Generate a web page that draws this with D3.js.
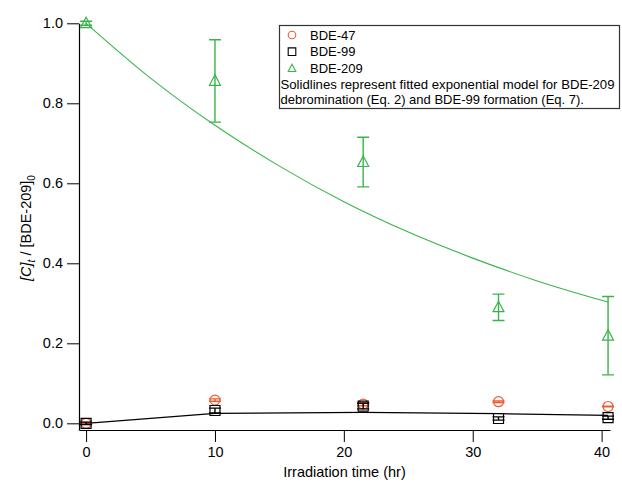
<!DOCTYPE html>
<html>
<head>
<meta charset="utf-8">
<script src="https://cdn.jsdelivr.net/npm/d3@7"></script>
<style>
  body { margin: 0; background: #fff; }
  svg { font-family: "Liberation Sans", Arial, sans-serif; }
</style>
</head>
<body>
<div id="chart"></div>
<script>
// measured values
var times = [0, 10, 21.5, 32, 40.5];
var bde47 = [0.0, 0.058, 0.048, 0.054, 0.042];
var bde47Err = [0.002, 0.003, 0.004, 0.002, 0.001];
var bde99 = [0.0, 0.032, 0.043, 0.012, 0.014];
var bde99Err = [0.003, 0.006, 0.007, 0.004, 0.004];
var bde209 = [1.0, 0.856, 0.653, 0.290, 0.219];
var bde209Err = [0.005, 0.103, 0.062, 0.033, 0.098];

// fitted model lines
var fit209Times = [0, 5, 10, 15, 20, 25, 30, 35, 40.5];
var fit209 = [1.0, 0.863, 0.745, 0.643, 0.554, 0.478, 0.413, 0.356, 0.303];
var fit99 = [0.0, 0.025, 0.0275, 0.024, 0.020];

var xTicks = [0, 10, 20, 30, 40];
var yTicks = [0, 0.2, 0.4, 0.6, 0.8, 1.0];

var width = 622, height = 482;
var red = "#ef5a36", green = "#38b54a", black = "#000";

var svg = d3.select("#chart").append("svg")
    .attr("width", width)
    .attr("height", height);

var x = d3.scaleLinear().domain([-0.55, 40.65]).range([79, 610]);
var y = d3.scaleLinear().domain([-0.0167, 1.0]).range([430, 23.3]);

// axes
svg.append("g")
    .attr("transform", "translate(0," + y.range()[0] + ")")
    .call(d3.axisBottom(x).tickValues(xTicks).tickSize(12).tickSizeOuter(0).tickPadding(5))
    .call(function(g) {
      g.select(".domain").attr("stroke-width", 1.2);
      g.selectAll("text").attr("font-size", 14.5).attr("fill", "#000");
    });

svg.append("g")
    .attr("transform", "translate(" + x.range()[0] + ",0)")
    .call(d3.axisLeft(y).tickValues(yTicks).tickFormat(d3.format(".1f")).tickSize(12).tickSizeOuter(0).tickPadding(4))
    .call(function(g) {
      g.select(".domain").attr("stroke-width", 1.2);
      g.selectAll("text").attr("font-size", 14.5).attr("fill", "#000");
    });

svg.append("text")
    .attr("x", (x.range()[0] + x.range()[1]) / 2)
    .attr("y", 477)
    .attr("text-anchor", "middle")
    .attr("font-size", 14.5)
    .text("Irradiation time (hr)");

var yTitle = svg.append("text")
    .attr("transform", "translate(31,228) rotate(-90)")
    .attr("text-anchor", "middle")
    .attr("font-size", 14.5);
yTitle.append("tspan").attr("font-style", "italic").text("[C]");
yTitle.append("tspan").attr("font-style", "italic").attr("font-size", 10).attr("dy", 4).text("t");
yTitle.append("tspan").attr("dy", -4).text(" / [BDE-209]");
yTitle.append("tspan").attr("font-size", 10).attr("dy", 4).text("0");

// fitted lines
var line = d3.line()
    .x(function(d) { return x(d[0]); })
    .y(function(d) { return y(d[1]); });

svg.append("path")
    .datum(d3.zip(fit209Times, fit209))
    .attr("d", line.curve(d3.curveMonotoneX))
    .attr("fill", "none")
    .attr("stroke", green)
    .attr("stroke-width", 1.1);

svg.append("path")
    .datum(d3.zip(times, fit99))
    .attr("d", line.curve(d3.curveLinear))
    .attr("fill", "none")
    .attr("stroke", black)
    .attr("stroke-width", 1.2);

function errorBars(vals, errs, color) {
  var data = d3.zip(times, vals, errs);
  var g = svg.append("g").attr("stroke", color).attr("stroke-width", 1.4);
  g.selectAll(".eb")
      .data(data)
    .enter().append("path")
      .attr("d", function(d) {
        var cx = x(d[0]), hi = y(d[1] + d[2]), lo = y(d[1] - d[2]);
        return "M" + cx + "," + hi + "V" + lo +
          "M" + (cx - 6) + "," + hi + "H" + (cx + 6) +
          "M" + (cx - 6) + "," + lo + "H" + (cx + 6);
      })
      .attr("fill", "none");
}

function markerPath(kind, s) {
  if (kind === "square") return "M" + (-s) + "," + (-s) + "h" + 2 * s + "v" + 2 * s + "h" + (-2 * s) + "Z";
  if (kind === "triangle") return "M0," + (-s * 1.1) + "L" + s + "," + s * 0.8 + "L" + (-s) + "," + s * 0.8 + "Z";
  return d3.arc()({innerRadius: 0, outerRadius: s, startAngle: 0, endAngle: 2 * Math.PI});
}

function markers(vals, kind, color, s) {
  svg.append("g").selectAll(".m")
      .data(d3.zip(times, vals))
    .enter().append("path")
      .attr("transform", function(d) { return "translate(" + x(d[0]) + "," + y(d[1]) + ")"; })
      .attr("d", markerPath(kind, s))
      .attr("fill", "none")
      .attr("stroke", color)
      .attr("stroke-width", 1.2);
}

errorBars(bde209, bde209Err, green);
markers(bde209, "triangle", green, 5.5);
errorBars(bde47, bde47Err, red);
markers(bde47, "circle", red, 5);
errorBars(bde99, bde99Err, black);
markers(bde99, "square", black, 5);

// legend
var lg = svg.append("g");
lg.append("rect")
    .attr("x", 279.5).attr("y", 25.5)
    .attr("width", 340).attr("height", 83)
    .attr("fill", "#fff")
    .attr("stroke", "#333")
    .attr("stroke-width", 1.2);

var legendNames = ["BDE-47", "BDE-99", "BDE-209"];
var legendKinds = ["circle", "square", "triangle"];
var legendColors = [red, black, green];

legendNames.forEach(function(name, i) {
  var cy = 35 + i * 16.7;
  lg.append("path")
      .attr("transform", "translate(292," + cy + ")")
      .attr("d", markerPath(legendKinds[i], 3.8))
      .attr("fill", "none")
      .attr("stroke", legendColors[i])
      .attr("stroke-width", 1.1);
  lg.append("text")
      .attr("x", 310).attr("y", cy + 4.5)
      .attr("font-size", 13)
      .text(name);
});

lg.append("text").attr("x", 280.5).attr("y", 88.5).attr("font-size", 13)
    .attr("textLength", 334).attr("lengthAdjust", "spacingAndGlyphs")
    .text("Solidlines represent fitted exponential model for BDE-209");
lg.append("text").attr("x", 280.5).attr("y", 104).attr("font-size", 13)
    .text("debromination (Eq. 2) and BDE-99 formation (Eq. 7).");
</script>
</body>
</html>
